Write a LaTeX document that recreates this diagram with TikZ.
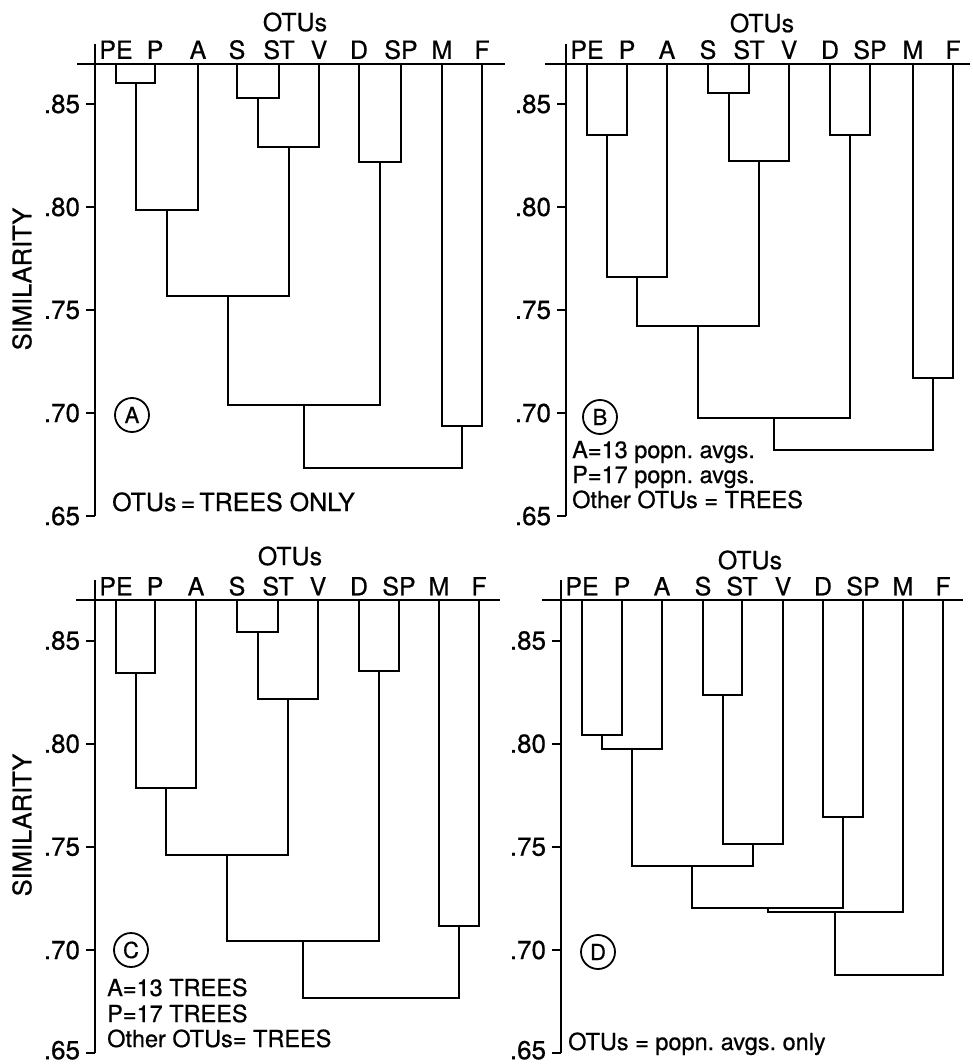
\documentclass[tikz,border=0pt]{standalone}
\usepackage{fontspec}
\setmainfont{TeX Gyre Heros}[FakeBold=0.6]
\usetikzlibrary{calc}
\tikzset{
  dl/.style={line width=2pt, line join=miter},
  lab/.style={font=\fontsize{25}{25}\selectfont, inner sep=0pt},
  leaflab/.style={lab, anchor=base, yshift=5pt},
  ticklab/.style={font=\fontsize{26}{26}\selectfont, inner sep=0pt, anchor=east, xshift=-5pt},
  note/.style={font=\fontsize{23.5}{23.5}\selectfont, inner sep=0pt, anchor=base west},
  circ/.style={draw, circle, line width=1.8pt, minimum size=34pt, inner sep=0pt, font=\fontsize{22}{22}\selectfont},
}
% merge two children at a given similarity
\newcommand\mrg[4]{%
  \coordinate (#3t) at ($(#1)!0.5!(#2)$);
  \coordinate (#3h) at (0,#4);
  \coordinate (#3) at (#3t |- #3h);
  \draw[dl] (#1) |- (#3) -| (#2);
}
% axis, baseline and ticks of a panel (#5 = vertical nudge of the .65 label)
\newcommand\axisset[5]{%
  \coordinate (#4ax0) at (#1,0.8792);
  \coordinate (#4ax1) at (#1,0.65);
  \coordinate (#4tl) at (#2,0.8695);
  \coordinate (#4tr) at (#3,0.8695);
  \draw[dl] (#4ax0) -- (#4ax1);
  \draw[dl] (#4tl) -- (#4tr);
  \foreach \v/\t/\n in {0.85/.85/85, 0.80/.80/80, 0.75/.75/75, 0.70/.70/70}{
    \coordinate (#4tk\n) at (#1,\v);
    \draw[dl] (#4tk\n) -- ++(-9pt,0pt) node[ticklab] (#4tl\n) {\t};
  }
  \draw[dl] (#4ax1) -- ++(-9pt,0pt) node[ticklab, yshift=#5] (#4tl65) {.65};
}
% leaf with its label
\newcommand\leaf[3]{%
  \coordinate (#1) at (#2,0.8695);
  \node[leaflab] (#1L) at (#1) {#3};
}
\newcommand\leaves[2]{%
  \foreach \nm/\xx in {#2}{\leaf{#1\nm}{\xx}{\nm}}
}
\begin{document}
\begin{tikzpicture}[x=1pt,y=1pt]
\fill[white] (0,0) rectangle (972,-1064);
\useasboundingbox (0,0) rectangle (972,-1064);

% ---------------- Panel A ----------------
\begin{scope}[y=2060pt,yshift=-1855pt]
\axisset{95}{77}{505}{a}{0pt}
\leaves{a}{PE/116,P/155,A/198,S/237,ST/279,V/319,D/359,SP/401,M/442,F/482}
\mrg{aPE}{aP}{aPEP}{0.860}
\mrg{aPEP}{aA}{aPEPA}{0.7985}
\mrg{aS}{aST}{aSST}{0.8528}
\mrg{aSST}{aV}{aSSTV}{0.829}
\mrg{aPEPA}{aSSTV}{aBig}{0.7567}
\mrg{aD}{aSP}{aDSP}{0.8217}
\mrg{aBig}{aDSP}{aBD}{0.7041}
\mrg{aM}{aF}{aMF}{0.6939}
\mrg{aBD}{aMF}{aAll}{0.6732}
\end{scope}
\node[lab] (aTitle) at (295,-22) {OTUs};
\node[lab, rotate=90, font=\fontsize{25.5}{25.5}\selectfont] (aSim) at (22,-279) {SIMILARITY};
\node[circ] (aCirc) at (132,-415) {A};
\node[note, font=\fontsize{25}{25}\selectfont] (aNote) at (112,-511) {OTUs\,=\,TREES ONLY};

% ---------------- Panel B ----------------
\begin{scope}[y=2060pt,yshift=-1855pt]
\axisset{566}{545}{970}{b}{0pt}
\leaves{b}{PE/587,P/627,A/667,S/708,ST/749,V/789,D/830,SP/870,M/913,F/953}
\mrg{bPE}{bP}{bPEP}{0.8351}
\mrg{bPEP}{bA}{bPEPA}{0.7658}
\mrg{bS}{bST}{bSST}{0.8555}
\mrg{bSST}{bV}{bSSTV}{0.8222}
\mrg{bPEPA}{bSSTV}{bBig}{0.7423}
\mrg{bD}{bSP}{bDSP}{0.8351}
\mrg{bBig}{bDSP}{bBD}{0.6976}
\mrg{bM}{bF}{bMF}{0.7169}
\mrg{bBD}{bMF}{bAll}{0.682}
\end{scope}
\node[lab] (bTitle) at (762,-23) {OTUs};
\node[circ] (bCirc) at (600,-417) {B};
\node[note] (bNote1) at (572,-458) {A=13 popn.\ avgs.};
\node[note] (bNote2) at (572,-483) {P=17 popn.\ avgs.};
\node[note] (bNote3) at (572,-508) {Other OTUs = TREES};

% ---------------- Panel C ----------------
\begin{scope}[y=2063pt,yshift=-2394.1pt]
\axisset{95}{76}{500}{c}{3pt}
\leaves{c}{PE/116,P/155,A/196,S/237,ST/278,V/318,D/359,SP/399,M/439,F/479}
\mrg{cPE}{cP}{cPEP}{0.8343}
\mrg{cPEP}{cA}{cPEPA}{0.7784}
\mrg{cS}{cST}{cSST}{0.8542}
\mrg{cSST}{cV}{cSSTV}{0.8219}
\mrg{cPEPA}{cSSTV}{cBig}{0.746}
\mrg{cD}{cSP}{cDSP}{0.8353}
\mrg{cBig}{cDSP}{cBD}{0.7045}
\mrg{cM}{cF}{cMF}{0.7118}
\mrg{cBD}{cMF}{cAll}{0.6767}
\end{scope}
\node[lab] (cTitle) at (290,-556) {OTUs};
\node[lab, rotate=90, font=\fontsize{25.5}{25.5}\selectfont] (cSim) at (22,-825) {SIMILARITY};
\node[circ] (cCirc) at (131,-950) {C};
\node[note] (cNote1) at (107,-996) {A=13 TREES};
\node[note] (cNote2) at (107,-1022) {P=17 TREES};
\node[note] (cNote3) at (107,-1047) {Other OTUs= TREES};

% ---------------- Panel D ----------------
\begin{scope}[y=2063pt,yshift=-2394.1pt]
\axisset{561}{542}{963}{d}{3pt}
\leaves{d}{PE/582,P/622,A/662,S/703,ST/742,V/783,D/823,SP/863,M/903,F/943}
\mrg{dPE}{dP}{dPEP}{0.804}
\mrg{dPEP}{dA}{dPEPA}{0.7972}
\mrg{dS}{dST}{dSST}{0.8234}
\mrg{dSST}{dV}{dSSTV}{0.7513}
\mrg{dPEPA}{dSSTV}{dBig}{0.7407}
\mrg{dD}{dSP}{dDSP}{0.7647}
\mrg{dBig}{dDSP}{dBD}{0.7206}
\mrg{dBD}{dM}{dBDM}{0.7186}
\mrg{dBDM}{dF}{dAll}{0.6877}
\end{scope}
\node[lab] (dTitle) at (750,-560) {OTUs};
\node[circ] (dCirc) at (598,-952) {D};
\node[note] (dNote) at (568,-1050) {OTUs = popn.\ avgs.\ only};
\end{tikzpicture}
\end{document}
